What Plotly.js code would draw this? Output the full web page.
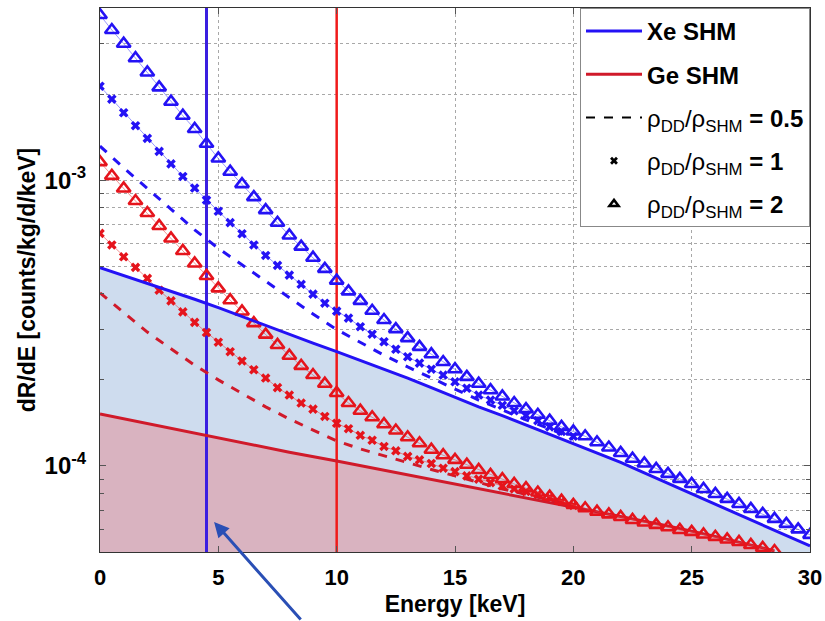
<!DOCTYPE html>
<html>
<head>
<meta charset="utf-8">
<script src="https://cdn.plot.ly/plotly-3.0.1.min.js"></script>
<style>html,body{margin:0;padding:0;background:#fff;}#chart{width:825px;height:621px;}</style>
</head>
<body>
<div id="chart"></div>
<script>
// ---------- data ----------
const energyHalf = [0,0.5,1,1.5,2,2.5,3,3.5,4,4.5,5,5.5,6,6.5,7,7.5,8,8.5,9,9.5,10,10.5,11,11.5,12,12.5,13,13.5,14,14.5,15,15.5,16,16.5,17,17.5,18,18.5,19,19.5,20,20.5,21,21.5,22,22.5,23,23.5,24,24.5,25,25.5,26,26.5,27,27.5,28,28.5,29,29.5,30];
const energyInt = [0,1,2,3,4,5,6,7,8,9,10,11,12,13,14,15,16,17,18,19,20,21,22,23,24,25,26,27,28,29,30];

// Xe
const xeSHM = [4.94e-4,4.64e-4,4.35e-4,4.08e-4,3.83e-4,3.58e-4,3.33e-4,3.11e-4,2.89e-4,2.69e-4,2.51e-4,2.34e-4,2.18e-4,2.03e-4,1.88e-4,1.74e-4,1.61e-4,1.50e-4,1.39e-4,1.29e-4,1.20e-4,1.11e-4,1.03e-4,9.45e-5,8.69e-5,7.98e-5,7.34e-5,6.74e-5,6.22e-5,5.71e-5,5.25e-5];
const xeRatio05 = [1.315e-3,1.104e-3,9.35e-4,7.92e-4,6.70e-4,5.77e-4,5.05e-4,4.41e-4,3.86e-4,3.40e-4,3.00e-4,2.70e-4,2.44e-4,2.22e-4,2.03e-4,1.86e-4,1.70e-4,1.57e-4,1.45e-4,1.35e-4,1.24e-4];
const xeRatio1 = [2.13e-3,1.92e-3,1.72e-3,1.55e-3,1.40e-3,1.26e-3,1.14e-3,1.03e-3,9.38e-4,8.51e-4,7.78e-4,7.10e-4,6.49e-4,5.93e-4,5.45e-4,5.03e-4,4.65e-4,4.32e-4,3.99e-4,3.71e-4,3.48e-4,3.29e-4,3.07e-4,2.89e-4,2.72e-4,2.56e-4,2.41e-4,2.29e-4,2.18e-4,2.08e-4,1.97e-4,1.87e-4,1.77e-4,1.70e-4,1.63e-4,1.56e-4,1.50e-4,1.44e-4,1.37e-4,1.32e-4,1.27e-4];
const xeRatio2 = [3.78e-3,3.35e-3,3.00e-3,2.67e-3,2.38e-3,2.11e-3,1.88e-3,1.68e-3,1.51e-3,1.34e-3,1.19e-3,1.07e-3,9.68e-4,8.72e-4,7.85e-4,7.09e-4,6.40e-4,5.85e-4,5.35e-4,4.89e-4,4.45e-4,4.08e-4,3.78e-4,3.49e-4,3.24e-4,3.01e-4,2.80e-4,2.61e-4,2.46e-4,2.31e-4,2.18e-4,2.05e-4,1.94e-4,1.84e-4,1.75e-4,1.66e-4,1.58e-4,1.51e-4,1.44e-4,1.37e-4,1.32e-4,1.27e-4,1.21e-4,1.16e-4,1.11e-4,1.06e-4,1.02e-4,9.76e-5,9.38e-5,9.01e-5,8.65e-5,8.31e-5,7.98e-5,7.67e-5,7.36e-5,7.07e-5,6.80e-5,6.53e-5,6.27e-5,6.00e-5,5.74e-5];

// Ge
const geShmEnergy = [0,2,4,6,8,10,12,14,16,18,20,22,24,26,28,28.5];
const geSHM = [1.52e-4,1.408e-4,1.299e-4,1.203e-4,1.117e-4,1.041e-4,9.67e-5,8.98e-5,8.34e-5,7.74e-5,7.19e-5,6.66e-5,6.17e-5,5.67e-5,5.17e-5,5.04e-5];
const geRatio05 = [4.03e-4,3.43e-4,2.94e-4,2.57e-4,2.25e-4,2.00e-4,1.79e-4,1.61e-4,1.46e-4,1.34e-4,1.223e-4,1.147e-4,1.084e-4,1.024e-4,9.72e-5,9.23e-5,8.76e-5,8.31e-5,7.95e-5,7.58e-5,7.25e-5];
const geRatio1 = [6.51e-4,5.93e-4,5.39e-4,4.95e-4,4.53e-4,4.12e-4,3.78e-4,3.46e-4,3.18e-4,2.93e-4,2.71e-4,2.51e-4,2.33e-4,2.17e-4,2.03e-4,1.88e-4,1.77e-4,1.66e-4,1.58e-4,1.49e-4,1.41e-4,1.35e-4,1.28e-4,1.23e-4,1.17e-4,1.13e-4,1.08e-4,1.05e-4,1.02e-4,9.82e-5,9.55e-5,9.23e-5,8.99e-5,8.74e-5,8.51e-5,8.31e-5,8.14e-5,7.95e-5,7.76e-5,7.51e-5,7.28e-5];
const geRatio2 = [1.156e-3,1.035e-3,9.35e-4,8.45e-4,7.67e-4,6.91e-4,6.25e-4,5.65e-4,5.11e-4,4.62e-4,4.18e-4,3.80e-4,3.47e-4,3.16e-4,2.88e-4,2.65e-4,2.43e-4,2.24e-4,2.08e-4,1.94e-4,1.80e-4,1.66e-4,1.56e-4,1.48e-4,1.40e-4,1.33e-4,1.26e-4,1.20e-4,1.14e-4,1.09e-4,1.05e-4,1.01e-4,9.68e-5,9.30e-5,8.99e-5,8.65e-5,8.36e-5,8.07e-5,7.81e-5,7.56e-5,7.31e-5,7.11e-5,6.92e-5,6.77e-5,6.63e-5,6.47e-5,6.34e-5,6.22e-5,6.10e-5,5.97e-5,5.88e-5,5.76e-5,5.65e-5,5.53e-5,5.42e-5,5.29e-5,5.17e-5,5.04e-5];

// thresholds (keV)
const xeThreshold = 4.5;
const geThreshold = 10;

// axes
const xTickVals = [0,5,10,15,20,25,30];
const yTickVals = [1e-4, 1e-3];
const yTickText = ['10<sup>-4</sup>', '10<sup>-3</sup>'];
const yMinorVals = [6e-5,7e-5,8e-5,9e-5,2e-4,3e-4,4e-4,5e-4,6e-4,7e-4,8e-4,9e-4,2e-3,3e-3];
const yLow = 5e-5, yHigh = 4e-3, yFloor = 1e-7;

const legendLabels = ['<b>Xe SHM</b>', '<b>Ge SHM</b>',
  'ρ<sub>DD</sub>/ρ<sub>SHM</sub> <b>= 0.5</b>',
  'ρ<sub>DD</sub>/ρ<sub>SHM</sub> <b>= 1</b>',
  'ρ<sub>DD</sub>/ρ<sub>SHM</sub> <b>= 2</b>'];

// ---------- styles ----------
const BLUE = '#2412f5';
const BLUE_THIN = 'rgba(70,70,255,0.55)';
const RED = '#e5141c';
const RED_THIN = 'rgba(235,60,60,0.55)';
const RED_DASH = '#d01a2a';

const energyHalfGe = energyHalf.slice(0, geRatio2.length);
const energyHalf20 = energyHalf.slice(0, xeRatio1.length);
const energyInt20 = energyInt.slice(0, xeRatio05.length);

const traces = [
  // fills
  {x:[energyInt[0], energyInt[energyInt.length-1]], y:[yFloor,yFloor], mode:'lines', line:{width:0}, showlegend:false, hoverinfo:'skip'},
  {x:energyInt, y:xeSHM, mode:'lines', fill:'tonexty', fillcolor:'#cedcee', line:{width:0}, showlegend:false, hoverinfo:'skip'},
  {x:[geShmEnergy[0], geShmEnergy[geShmEnergy.length-1]], y:[yFloor,yFloor], mode:'lines', line:{width:0}, showlegend:false, hoverinfo:'skip'},
  {x:geShmEnergy, y:geSHM, mode:'lines', fill:'tonexty', fillcolor:'#d9b3c0', line:{width:0}, showlegend:false, hoverinfo:'skip'},
  // thresholds
  {x:[xeThreshold, xeThreshold], y:[yLow/2, yHigh*2], mode:'lines', line:{color:'#3a1fe0', width:3}, showlegend:false, hoverinfo:'skip'},
  {x:[geThreshold, geThreshold], y:[yLow/2, yHigh*2], mode:'lines', line:{color:'#f01a1a', width:2.5}, showlegend:false, hoverinfo:'skip'},
  // Ge curves
  {x:geShmEnergy, y:geSHM, mode:'lines', line:{color:RED_DASH, width:3}, name:legendLabels[1], legendrank:2, legendgroup:'g2'},
  {x:energyInt20, y:geRatio05, mode:'lines', line:{color:RED_DASH, width:3, dash:'dash'}, showlegend:false},
  {x:energyHalf20, y:geRatio1, mode:'lines+markers', line:{color:RED_THIN, width:1}, marker:{symbol:'x', size:8.5, color:RED}, showlegend:false},
  {x:energyHalfGe, y:geRatio2, mode:'lines+markers', line:{color:RED_THIN, width:1}, marker:{symbol:'triangle-up-open', size:12, color:RED, line:{width:2.6}}, showlegend:false},
  // Xe curves
  {x:energyInt, y:xeSHM, mode:'lines', line:{color:BLUE, width:3}, name:legendLabels[0], legendrank:1, legendgroup:'g1'},
  {x:energyInt20, y:xeRatio05, mode:'lines', line:{color:BLUE, width:3, dash:'dash'}, showlegend:false},
  {x:energyHalf20, y:xeRatio1, mode:'lines+markers', line:{color:BLUE_THIN, width:1}, marker:{symbol:'x', size:8.5, color:BLUE}, showlegend:false},
  {x:energyHalf, y:xeRatio2, mode:'lines+markers', line:{color:BLUE_THIN, width:1}, marker:{symbol:'triangle-up-open', size:12, color:BLUE, line:{width:2.6}}, showlegend:false},
  // legend-only entries
  {x:[null], y:[null], mode:'lines', line:{color:'#000', width:2, dash:'dash'}, name:legendLabels[2], legendrank:3, legendgroup:'g3'},
  {x:[null], y:[null], mode:'markers', marker:{symbol:'x', size:7, color:'#000'}, name:legendLabels[3], legendrank:4, legendgroup:'g4'},
  {x:[null], y:[null], mode:'markers', marker:{symbol:'triangle-up-open', size:8, color:'#000', line:{width:2.5}}, name:legendLabels[4], legendrank:5, legendgroup:'g5'}
];

const gridStyle = {showgrid:true, gridcolor:'#a8a8a8', griddash:'dot', gridwidth:1};
const layout = {
  width:825, height:621,
  margin:{l:100, r:15, t:8, b:69},
  paper_bgcolor:'#fff', plot_bgcolor:'#fff',
  font:{family:'Liberation Sans, Arial, sans-serif', size:20, color:'#000'},
  showlegend:true,
  legend:{x:1, xanchor:'right', y:1, yanchor:'top', bgcolor:'#fff', bordercolor:'#888', borderwidth:1,
          traceorder:'grouped', font:{size:24, color:'#000'}, itemwidth:56, tracegroupgap:9},
  xaxis:Object.assign({
    range:[0,30], tickmode:'array', tickvals:xTickVals,
    zeroline:false, showline:true, linecolor:'#333', linewidth:1, mirror:'ticks',
    ticks:'inside', ticklen:6, tickcolor:'#555',
    tickfont:{size:22, weight:'bold'}, ticklabelstandoff:6,
    title:{text:'Energy [keV]', font:{size:23, weight:'bold'}, standoff:6}
  }, gridStyle),
  yaxis:Object.assign({
    type:'log', range:[Math.log10(yLow), Math.log10(yHigh)],
    tickmode:'array', tickvals:yTickVals, ticktext:yTickText,
    zeroline:false, showline:true, linecolor:'#333', linewidth:1, mirror:'ticks',
    ticks:'inside', ticklen:6, tickcolor:'#555',
    tickfont:{size:24, weight:'bold'}, ticklabelstandoff:8,
    minor:{tickmode:'array', tickvals:yMinorVals, ticks:'inside', ticklen:4, tickcolor:'#555', showgrid:true, gridcolor:'#a8a8a8', griddash:'dot', gridwidth:1},
    title:{text:'dR/dE [counts/kg/d/keV]', font:{size:23, weight:'bold'}, standoff:2}
  }, gridStyle),
  annotations:[{
    xref:'x', yref:'y', x:4.82, y:Math.log10(6.37e-5), text:'', showarrow:true,
    arrowhead:2, arrowsize:1, arrowwidth:3, arrowcolor:'#2a4fb5', ax:88, ay:100
  }]
};

Plotly.newPlot('chart', traces, layout, {displayModeBar:false, staticPlot:true});
</script>
</body>
</html>
